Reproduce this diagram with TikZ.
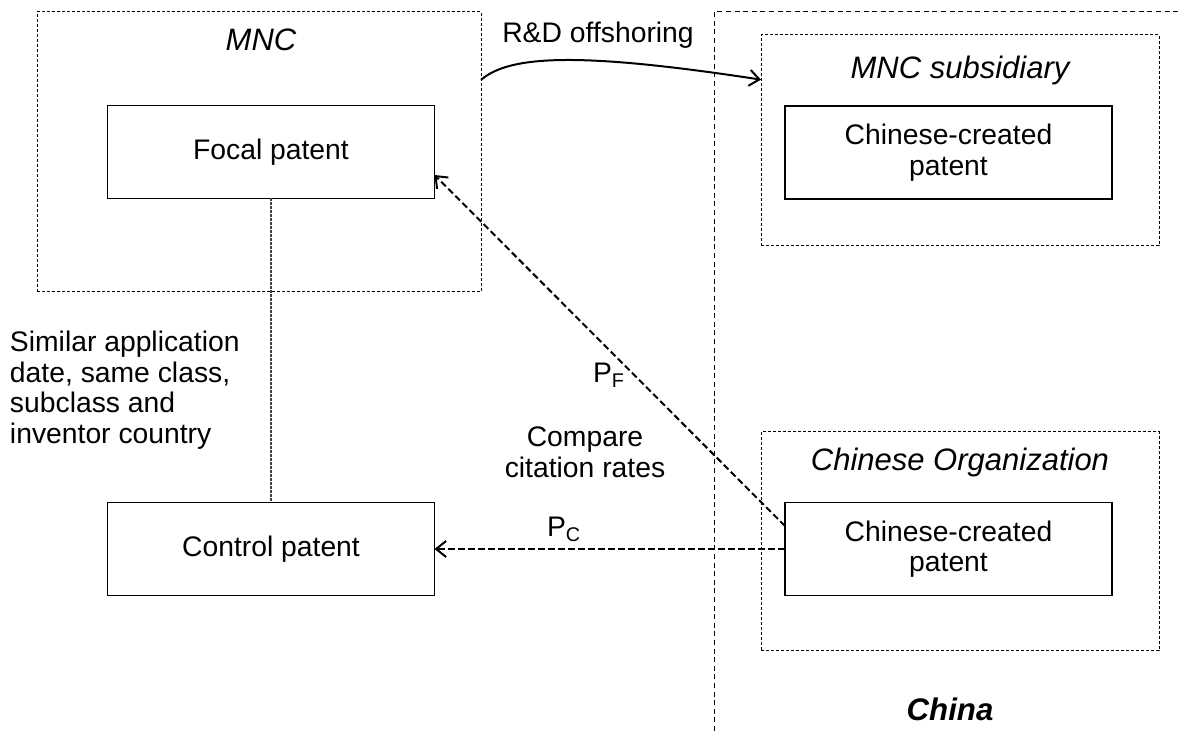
\documentclass[tikz,border=0pt]{standalone}
\usepackage{fontspec}
\setmainfont{Liberation Sans}
\usetikzlibrary{arrows.meta}
\begin{document}
\begin{tikzpicture}[x=0.5pt,y=-0.5pt,
  every node/.style={font=\fontsize{14.15}{15.3}\selectfont, inner sep=0pt, outer sep=0pt},
  patentbox/.style={draw, line width=0.55pt, minimum width=163.5pt, minimum height=46.5pt, align=center},
  orgbox/.style={draw, line width=0.5pt, dash pattern=on 1.5pt off 1pt},
  orglabel/.style={font=\fontsize{15.5}{17}\selectfont\itshape},
  citeline/.style={line width=1pt, dash pattern=on 3.3pt off 1.7pt, -{Straight Barb[length=5pt,width=8pt]}},
  borderline/.style={line width=0.5pt, dash pattern=on 2.5pt off 1.8pt},
  matchline/.style={line width=0.55pt, dash pattern=on 1.2pt off 0.8pt, black!75},
]
\useasboundingbox (0,0) rectangle (1178,731);

% country border of China
\draw[borderline] (714,731) -- (714,12) -- (1178,12);
\node[font=\fontsize{15.6}{17}\selectfont\bfseries\itshape] (china) at (950,709) {China};

% organisations
\node[orgbox, minimum width=222pt, minimum height=140pt] (mnc) at (259,152) {};
\node[orglabel] (mnclabel) at (261,40) {MNC};
\node[orgbox, minimum width=199pt, minimum height=105.5pt] (msub) at (960,140.5) {};
\node[orglabel] (msublabel) at (960,70) {MNC subsidiary};
\node[orgbox, minimum width=199pt, minimum height=109.5pt] (corg) at (960,541.5) {};
\node[orglabel] (corglabel) at (960,462) {Chinese Organization};

% patents
\node[patentbox] (focal) at (271,152) {Focal patent};
\node[patentbox] (control) at (271,549) {Control patent};
\node[patentbox] (cpa) at (948.5,152.5) {Chinese-created\\patent};
\node[patentbox] (cpb) at (948.5,549) {Chinese-created\\patent};

% matching of focal and control patents
\draw[matchline] (focal.south) -- (control.north);
\node[anchor=west, align=left] (matchtext) at (10,390)
  {Similar application\\date, same class,\\subclass and\\inventor country};

% offshoring
\draw[line width=1pt, -{Straight Barb[length=5pt,width=8pt]}]
  (mnc.18.4) .. controls (510,55) and (580,52) .. (msub.163.6);
\node (rdlabel) at (598,35) {R\&D offshoring};

% citations
\draw[citeline] (cpb.172) -- (focal.-8.7);
\draw[citeline] (cpb.west) -- (control.east);
\node[anchor=base west] (pf) at (593,383) {P\textsubscript{F}};
\node[anchor=base west] (pc) at (547,537) {P\textsubscript{C}};
\node[align=center] (compare) at (585,452) {Compare\\citation rates};
\end{tikzpicture}
\end{document}
